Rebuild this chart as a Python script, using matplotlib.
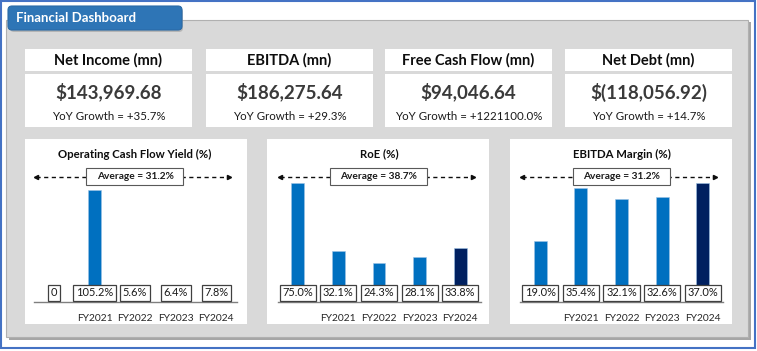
import matplotlib
matplotlib.use("Agg")
import matplotlib.pyplot as plt
from matplotlib.patches import Rectangle, FancyBboxPatch

plt.rcParams["font.family"] = ["Lato", "DejaVu Sans"]

# ---------------------------------------------------------------------------
# Data
# ---------------------------------------------------------------------------
KPI_TITLES = ["Net Income (mn)", "EBITDA (mn)", "Free Cash Flow (mn)", "Net Debt (mn)"]
KPI_VALUES = ["$143,969.68", "$186,275.64", "$94,046.64", "$(118,056.92)"]
KPI_GROWTH = ["+35.7%", "+29.3%", "+1221100.0%", "+14.7%"]

YEARS = ["", "FY2021", "FY2022", "FY2023", "FY2024"]
CHART_TITLES = ["Operating Cash Flow Yield (%)", "RoE (%)", "EBITDA Margin (%)"]
OCF_YIELD = [0.0, 105.2, 5.6, 6.4, 7.8]
ROE = [75.0, 32.1, 24.3, 28.1, 33.8]
EBITDA_MARGIN = [19.0, 35.4, 32.1, 32.6, 37.0]

# ---------------------------------------------------------------------------
# Layout (pixel coordinates, origin top-left)
# ---------------------------------------------------------------------------
W, H = 757, 351
KPI_X = [25, 206, 385, 565]
KPI_W = 167
PANEL_X = [25, 267, 510]
PANEL_W = 222
AXES_X = [33.6, 277.5, 520]
AXES_W = 203
AX_TOP, AX_BASE = 168, 302
Y_TOPS = [126, 84.5, 41.7]

BLUE = "#0070C0"
NAVY = "#002060"

fig = plt.figure(figsize=(W / 100, H / 100), dpi=100)
bg = fig.add_axes([0, 0, 1, 1])
bg.set_xlim(0, W)
bg.set_ylim(H, 0)
bg.axis("off")

# outer frame
bg.add_patch(Rectangle((1, 1), 754, 347, fc="white", ec="#4472C4", lw=1.5))
# grey panel with shadow
bg.add_patch(Rectangle((9, 22), 742, 318, fc="#A6A6A6", ec="none"))
bg.add_patch(Rectangle((6, 20), 742, 317, fc="#D9D9D9", ec="#B0B0B0", lw=0.8))

# title tab
bg.add_patch(FancyBboxPatch((10, 8), 173, 24, boxstyle="round,pad=0,rounding_size=4",
                            fc="#9E9E9E", ec="none", alpha=0.6))
bg.add_patch(FancyBboxPatch((8, 6), 174, 24, boxstyle="round,pad=0,rounding_size=4",
                            fc="#2E75B6", ec="#2A6AA6", lw=0.8))
bg.text(16, 18.5, "Financial Dashboard", color="white", fontsize=9.5,
        fontweight="bold", va="center", ha="left")

# KPI cards
for x, title, val, gr in zip(KPI_X, KPI_TITLES, KPI_VALUES, KPI_GROWTH):
    bg.add_patch(Rectangle((x, 49), KPI_W, 22, fc="white", ec="none"))
    bg.add_patch(Rectangle((x, 74), KPI_W, 53, fc="white", ec="none"))
    cx = x + KPI_W / 2
    bg.text(cx, 60, title, ha="center", va="center", fontsize=10.5,
            fontweight="bold", color="#0D0D0D")
    bg.text(cx, 92, val, ha="center", va="center", fontsize=13.5,
            fontweight="bold", color="#3A3A3A")
    bg.text(cx, 117, f"YoY Growth = {gr}", ha="center", va="center",
            fontsize=8.3, color="#1A1A1A")

# chart panels
series = [OCF_YIELD, ROE, EBITDA_MARGIN]
for i, (px, ax_x, title, vals, ytop) in enumerate(
        zip(PANEL_X, AXES_X, CHART_TITLES, series, Y_TOPS)):
    bg.add_patch(Rectangle((px, 139), PANEL_W, 185, fc="white", ec="none"))
    bg.text(ax_x + AXES_W / 2, 154, title, ha="center", va="center",
            fontsize=8.2, fontweight="bold", color="#0D0D0D")

    nonzero = [v for v in vals if v != 0]
    avg = sum(nonzero) / len(nonzero)
    cx = ax_x + AXES_W / 2
    y_arrow = 177
    bg.plot([ax_x + 2, ax_x + AXES_W - 8], [y_arrow, y_arrow], ls=(0, (3, 2.5)),
            color="#0D0D0D", lw=1)
    bg.plot([ax_x + 2], [y_arrow], marker="<", ms=3, color="#0D0D0D")
    bg.plot([ax_x + AXES_W - 8], [y_arrow], marker=">", ms=3, color="#0D0D0D")
    bg.add_patch(Rectangle((cx - 49, 168), 97, 17, fc="white", ec="#595959",
                           lw=0.8, zorder=3))
    bg.text(cx, 176.5, f"Average = {avg:.1f}%", ha="center", va="center",
            fontsize=7.3, fontweight="bold", color="#1A1A1A", zorder=4)

    ax = fig.add_axes([ax_x / W, 1 - AX_BASE / H, AXES_W / W, (AX_BASE - AX_TOP) / H])
    ax.patch.set_alpha(0)
    colors = [BLUE] * (len(vals) - 1) + [NAVY]
    xs = range(len(vals))
    ax.bar(xs, vals, width=0.32, color=colors, edgecolor="#9DC3E6", linewidth=0.4)
    ax.set_xlim(-0.5, len(vals) - 0.5)
    ax.set_ylim(0, ytop)
    ax.set_xticks(list(xs))
    ax.set_xticklabels(YEARS, fontsize=7.4, color="#262626")
    ax.tick_params(axis="x", length=0, pad=8.5)
    ax.set_yticks([])
    for s in ["top", "left", "right"]:
        ax.spines[s].set_visible(False)
    ax.spines["bottom"].set_color("#7F7F7F")
    ax.spines["bottom"].set_linewidth(1)
    for xi, v in zip(xs, vals):
        lab = "0" if v == 0 else f"{v:.1f}%"
        ax.annotate(lab, xy=(xi, 0), xytext=(0, 6.6), textcoords="offset points",
                    ha="center", va="center", fontsize=7.9, color="#1A1A1A",
                    bbox=dict(boxstyle="square,pad=0.24", fc="white",
                              ec="#404040", lw=0.9))

fig.savefig("out.png", dpi=100)
